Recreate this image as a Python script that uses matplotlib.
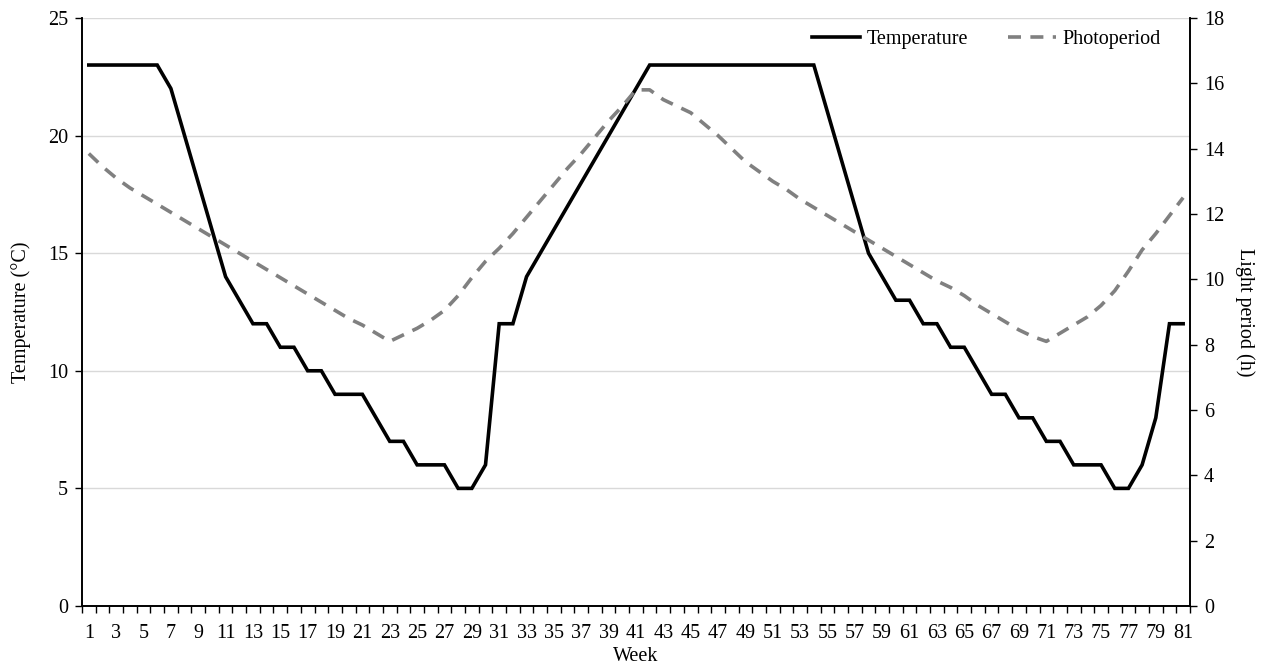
import matplotlib
matplotlib.use("Agg")
import matplotlib.pyplot as plt
import numpy as np

plt.rcParams["font.family"] = ["Liberation Serif", "DejaVu Serif"]

weeks = list(range(1, 82))

temperature = [
    23, 23, 23, 23, 23, 23, 22, 20, 18, 16,
    14, 13, 12, 12, 11, 11, 10, 10, 9, 9,
    9, 8, 7, 7, 6, 6, 6, 5, 5, 6,
    12, 12, 14, 15, 16, 17, 18, 19, 20, 21,
    22, 23, 23, 23, 23, 23, 23, 23, 23, 23,
    23, 23, 23, 23, 21, 19, 17, 15, 14, 13,
    13, 12, 12, 11, 11, 10, 9, 9, 8, 8,
    7, 7, 6, 6, 6, 5, 5, 6, 8, 12,
    12,
]

photoperiod = [
    13.85, 13.45, 13.1, 12.8, 12.55, 12.3, 12.05, 11.8, 11.55, 11.3,
    11.05, 10.8, 10.55, 10.3, 10.05, 9.8, 9.55, 9.3, 9.05, 8.8,
    8.6, 8.35, 8.1, 8.3, 8.5, 8.75, 9.05, 9.5, 10.05, 10.55,
    10.95, 11.4, 11.9, 12.4, 12.9, 13.4, 13.85, 14.35, 14.85, 15.3,
    15.8, 15.8, 15.5, 15.3, 15.1, 14.75, 14.4, 14.0, 13.6, 13.3,
    13.0, 12.75, 12.45, 12.2, 11.95, 11.7, 11.45, 11.2, 10.95, 10.7,
    10.45, 10.2, 9.95, 9.75, 9.5, 9.2, 8.95, 8.7, 8.45, 8.25,
    8.1, 8.35, 8.6, 8.85, 9.2, 9.65, 10.25, 10.9, 11.4, 11.95,
    12.5,
]

week_labels = [str(w) for w in weeks[::2]]

fs = 14.5

fig = plt.figure(figsize=(12.65, 6.71), dpi=100)
ax = fig.add_axes([0.0648, 0.0969, 0.8759, 0.8763])
ax2 = ax.twinx()

# temperature on the left axis
ax.plot(weeks, temperature, color="black", lw=2.6, label="Temperature",
        solid_joinstyle="miter", zorder=3)
ax.set_ylim(0, 25)
ax.set_yticks(np.arange(0, 26, 5))
ax.set_xlim(0.5, 81.5)
ax.set_xticks(weeks[::2])
ax.set_xticklabels(week_labels)
ax.set_xticks(np.arange(0.5, 82, 1), minor=True)
ax.tick_params(axis="x", which="major", length=0, labelsize=fs, pad=13)
ax.tick_params(axis="x", which="minor", length=5, width=1, direction="out")
ax.tick_params(axis="y", length=5, width=1, labelsize=fs, pad=5)
ax.grid(axis="y", color="#d9d9d9", lw=1)
ax.set_axisbelow(True)
ax.set_xlabel("Week", fontsize=fs, labelpad=3)
ax.set_ylabel("Temperature (°C)", fontsize=fs, labelpad=12)

# photoperiod on the right axis
ax2.plot(weeks, photoperiod, color="#808080", lw=2.6, ls=(0, (3.6, 2.6)),
         label="Photoperiod", zorder=2)
ax2.set_ylim(0, 18)
ax2.set_yticks(np.arange(0, 19, 2))
ax2.tick_params(axis="y", length=5, width=1, labelsize=fs, pad=5)
ax2.set_ylabel("Light period (h)", fontsize=fs, rotation=270, labelpad=22)

for a in (ax, ax2):
    a.spines["top"].set_visible(False)
    for s in ("left", "right", "bottom"):
        a.spines[s].set_linewidth(1.2)

h1, l1 = ax.get_legend_handles_labels()
h2, l2 = ax2.get_legend_handles_labels()
ax2.legend(h1 + h2, l1 + l2, loc="upper right", ncol=2, frameon=False,
           fontsize=fs, bbox_to_anchor=(0.99, 1.01), handlelength=2.4,
           handletextpad=0.3, columnspacing=2.0)

plt.savefig("out.png", dpi=100)
plt.close()
